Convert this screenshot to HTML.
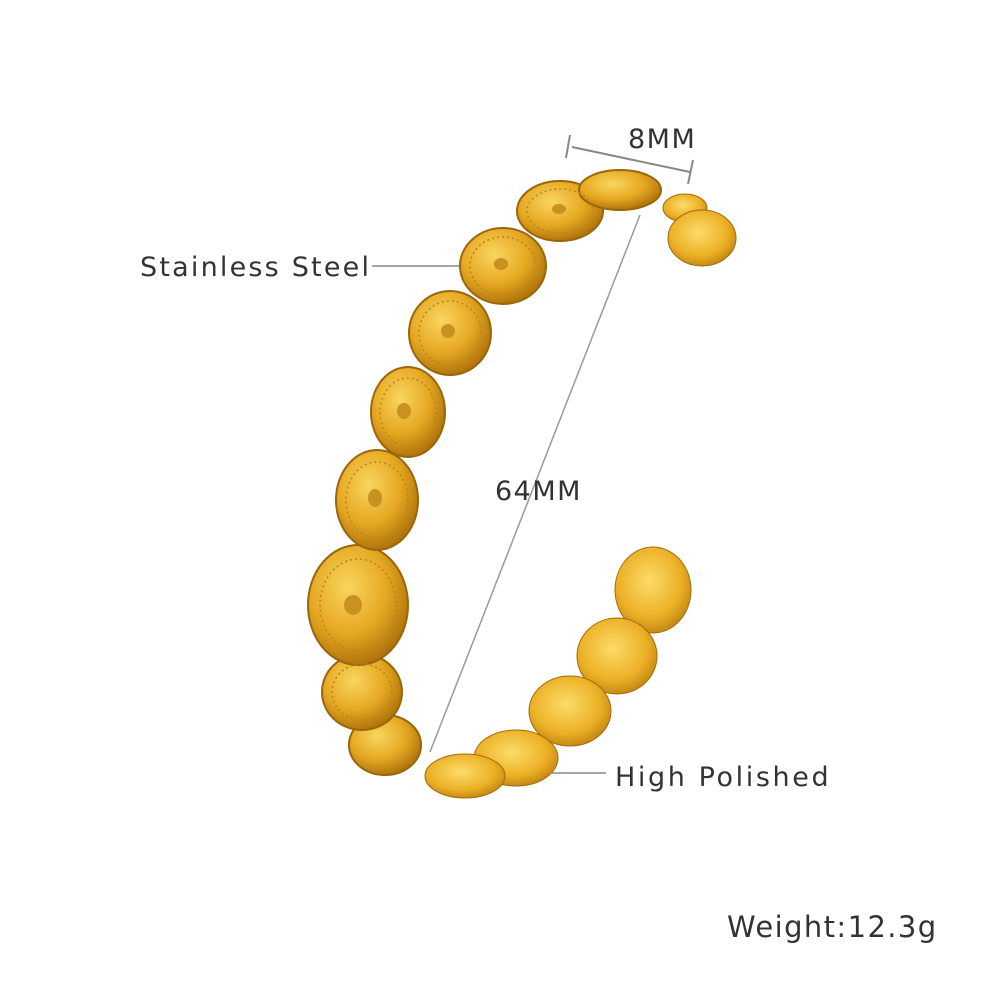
<!DOCTYPE html>
<html><head><meta charset="utf-8"><style>
html,body{margin:0;padding:0;background:#fff;}
svg{display:block}
text{font-family:"DejaVu Sans","Liberation Sans",sans-serif;fill:#333;}
</style></head><body>
<svg width="1000" height="1000" viewBox="0 0 1000 1000" xmlns="http://www.w3.org/2000/svg">
<defs>
<radialGradient id="g" cx="40%" cy="35%" r="70%">
<stop offset="0" stop-color="#f9d660"/><stop offset="0.55" stop-color="#e6a822"/><stop offset="1" stop-color="#a86c08"/>
</radialGradient>
<radialGradient id="p" cx="45%" cy="40%" r="70%">
<stop offset="0" stop-color="#fcdc6a"/><stop offset="0.6" stop-color="#ecb025"/><stop offset="1" stop-color="#b0740c"/>
</radialGradient>
</defs>
<line x1="572" y1="147" x2="690" y2="172" stroke="#888" stroke-width="2"/>
<line x1="570" y1="135" x2="566" y2="158" stroke="#888" stroke-width="2"/>
<line x1="693" y1="160" x2="688" y2="184" stroke="#888" stroke-width="2"/>
<line x1="640" y1="215" x2="430" y2="752" stroke="#999" stroke-width="1.5"/>
<line x1="372" y1="266" x2="482" y2="266" stroke="#888" stroke-width="1.5"/>
<line x1="552" y1="773" x2="606" y2="773" stroke="#888" stroke-width="1.5"/>
<ellipse cx="685" cy="208" rx="22" ry="14" fill="url(#p)" stroke="#a06c0a"/>
<ellipse cx="702" cy="238" rx="34" ry="28" fill="url(#p)" stroke="#a06c0a"/>
<ellipse cx="653" cy="590" rx="38" ry="43" fill="url(#p)" stroke="#a06c0a"/>
<ellipse cx="617" cy="656" rx="40" ry="38" fill="url(#p)" stroke="#a06c0a"/>
<ellipse cx="570" cy="711" rx="41" ry="35" fill="url(#p)" stroke="#a06c0a"/>
<ellipse cx="516" cy="758" rx="42" ry="28" fill="url(#p)" stroke="#a06c0a"/>
<ellipse cx="465" cy="776" rx="40" ry="22" fill="url(#p)" stroke="#a06c0a"/>
<g fill="url(#g)" stroke="#9a6608" stroke-width="2">
<ellipse cx="385" cy="745" rx="36" ry="30"/>
<ellipse cx="362" cy="692" rx="40" ry="38"/>
<ellipse cx="358" cy="605" rx="50" ry="60"/>
<ellipse cx="377" cy="500" rx="41" ry="50"/>
<ellipse cx="408" cy="412" rx="37" ry="45"/>
<ellipse cx="450" cy="333" rx="41" ry="42"/>
<ellipse cx="503" cy="266" rx="43" ry="38"/>
<ellipse cx="560" cy="211" rx="43" ry="30"/>
<ellipse cx="620" cy="190" rx="41" ry="20"/>
</g>
<g fill="none" stroke="#b88418" stroke-width="1.5" stroke-dasharray="2 3">
<ellipse cx="358" cy="605" rx="38" ry="46"/>
<ellipse cx="377" cy="500" rx="31" ry="38"/>
<ellipse cx="408" cy="412" rx="28" ry="34"/>
<ellipse cx="450" cy="333" rx="31" ry="32"/>
<ellipse cx="503" cy="266" rx="33" ry="29"/>
<ellipse cx="560" cy="211" rx="33" ry="22"/>
<ellipse cx="362" cy="692" rx="30" ry="28"/>
</g>
<g fill="#c99220">
<ellipse cx="353" cy="605" rx="9" ry="10"/><ellipse cx="375" cy="498" rx="7" ry="9"/>
<ellipse cx="404" cy="411" rx="7" ry="8"/><ellipse cx="448" cy="331" rx="7" ry="7"/>
<ellipse cx="501" cy="264" rx="7" ry="6"/><ellipse cx="559" cy="209" rx="7" ry="5"/>
</g>
<text x="628" y="148" font-size="27" letter-spacing="1.5">8MM</text>
<text x="140" y="276" font-size="27" letter-spacing="2.2">Stainless Steel</text>
<text x="495" y="500" font-size="27" letter-spacing="1.5">64MM</text>
<text x="615" y="786" font-size="27" letter-spacing="2.6">High Polished</text>
<text x="727" y="937" font-size="29" letter-spacing="1.4">Weight:12.3g</text>
</svg>
</body></html>
